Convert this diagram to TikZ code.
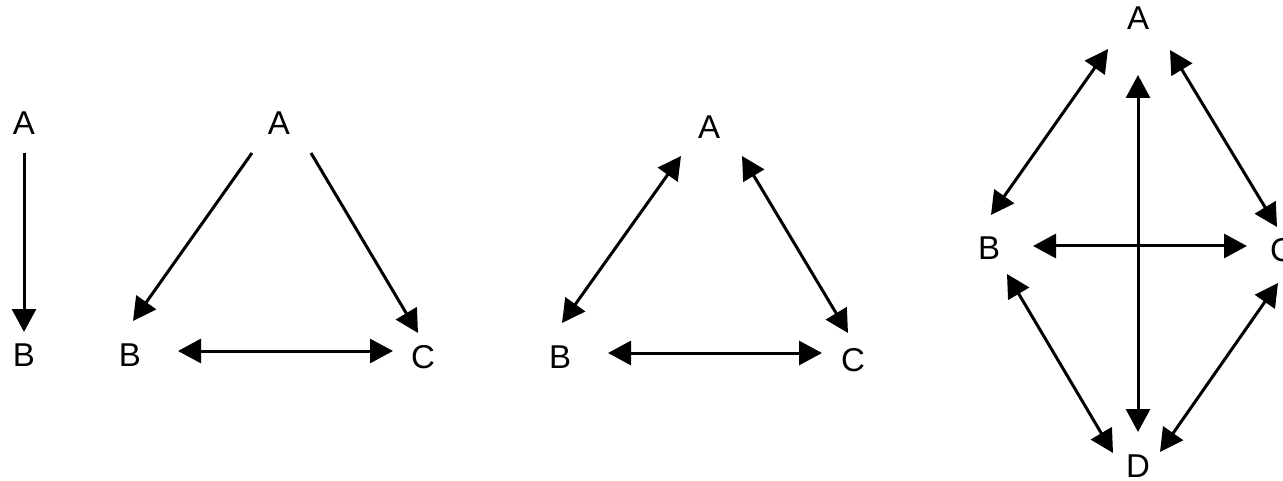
\documentclass[tikz,border=0pt]{standalone}
\usepackage{fontspec}
\setmainfont{Liberation Sans}
\usetikzlibrary{arrows.meta}
\begin{document}
\begin{tikzpicture}[x=1pt,y=-1pt,
  lbl/.style={inner sep=0pt,font=\fontsize{33}{38}\selectfont},
  con/.style={line width=3pt,-{Triangle[length=23pt,width=24pt]}},
  bicon/.style={line width=3pt,{Triangle[length=23pt,width=24pt]}-{Triangle[length=23pt,width=24pt]}}]
\useasboundingbox (0,0) rectangle (1283,481);
% panel 1
\node[lbl] (a1) at (24,123) {A};
\node[lbl] (b1) at (24,355) {B};
\draw[con] ([shift={(0,30)}]a1.center) -- ([shift={(0,-23)}]b1.center);
% panel 2
\node[lbl] (a2) at (279,123) {A};
\node[lbl] (b2) at (130,355) {B};
\node[lbl] (c2) at (423,357) {C};
\draw[con] ([shift={(-27,30)}]a2.center) -- ([shift={(3,-34)}]b2.center);
\draw[con] ([shift={(32,30)}]a2.center) -- ([shift={(-5,-24)}]c2.center);
\draw[bicon] ([shift={(48,-4)}]b2.center) -- ([shift={(-30,-6)}]c2.center);
% panel 3
\node[lbl] (a3) at (709,127) {A};
\node[lbl] (b3) at (560,357) {B};
\node[lbl] (c3) at (853,360) {C};
\draw[bicon] ([shift={(2,-34)}]b3.center) -- ([shift={(-28,29)}]a3.center);
\draw[bicon] ([shift={(33,29)}]a3.center) -- ([shift={(-5,-27)}]c3.center);
\draw[bicon] ([shift={(48,-4)}]b3.center) -- ([shift={(-31,-7)}]c3.center);
% panel 4
\node[lbl] (a4) at (1138,18) {A};
\node[lbl] (b4) at (989,248) {B};
\node[lbl] (c4) at (1282,250) {C};
\node[lbl] (d4) at (1138,466) {D};
\draw[bicon] ([shift={(-30,31)}]a4.center) -- ([shift={(2,-33)}]b4.center);
\draw[bicon] ([shift={(32,32)}]a4.center) -- ([shift={(-5,-23)}]c4.center);
\draw[bicon] ([shift={(0,57)}]a4.center) -- ([shift={(0,-34)}]d4.center);
\draw[bicon] ([shift={(44,-2)}]b4.center) -- ([shift={(-35,-4)}]c4.center);
\draw[bicon] ([shift={(18,26)}]b4.center) -- ([shift={(-25,-13)}]d4.center);
\draw[bicon] ([shift={(-4,33)}]c4.center) -- ([shift={(22,-14)}]d4.center);
\end{tikzpicture}
\end{document}
